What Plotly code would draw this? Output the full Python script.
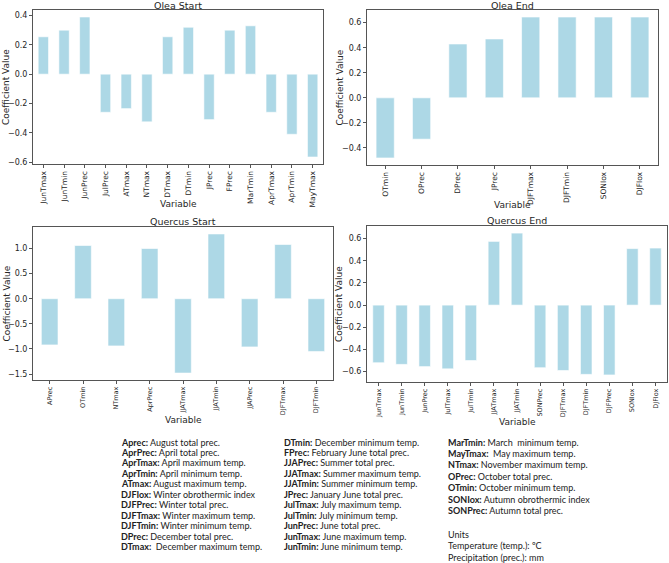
import plotly.graph_objects as go

# ---------------- data ----------------
olea_start_vars = ["JunTmax", "JunTmin", "JunPrec", "JulPrec", "ATmax", "NTmax", "DTmax",
                   "DTmin", "JPrec", "FPrec", "MarTmin", "AprTmax", "AprTmin", "MayTmax"]
olea_start_vals = [0.255, 0.30, 0.39, -0.26, -0.235, -0.325, 0.255,
                   0.32, -0.31, 0.30, 0.33, -0.26, -0.41, -0.565]

olea_end_vars = ["OTmin", "OPrec", "DPrec", "JPrec", "DJFTmax", "DJFTmin", "SONIox", "DJFIox"]
olea_end_vals = [-0.48, -0.33, 0.43, 0.47, 0.645, 0.645, 0.645, 0.645]

quercus_start_vars = ["APrec", "OTmin", "NTmax", "AprPrec", "JJATmax", "JJATmin",
                      "JJAPrec", "DJFTmax", "DJFTmin"]
quercus_start_vals = [-0.92, 1.06, -0.94, 1.0, -1.48, 1.29, -0.96, 1.08, -1.05]

quercus_end_vars = ["JunTmax", "JunTmin", "JunPrec", "JulTmax", "JulTmin", "JJATmax", "JJATmin",
                    "SONPrec", "DJFTmax", "DJFTmin", "DJFPrec", "SONIox", "DJFIox"]
quercus_end_vals = [-0.52, -0.535, -0.555, -0.575, -0.50, 0.575, 0.65,
                    -0.565, -0.59, -0.625, -0.63, 0.51, 0.515]

panel_titles = ["Olea Start", "Olea End", "Quercus Start", "Quercus End"]
panel_dticks = [0.2, 0.2, 0.5, 0.2]

legend_col1 = [("Aprec:", "August total prec."),
               ("AprPrec:", "April total prec."),
               ("AprTmax:", "April maximum temp."),
               ("AprTmin:", "April minimum temp."),
               ("ATmax:", "August maximum temp."),
               ("DJFIox:", "Winter obrothermic index"),
               ("DJFPrec:", "Winter total prec."),
               ("DJFTmax:", "Winter maximum temp."),
               ("DJFTmin:", "Winter minimum temp."),
               ("DPrec:", "December total prec."),
               ("DTmax:", " December maximum temp.")]
legend_col2 = [("DTmin:", "December minimum temp."),
               ("FPrec:", "February June total prec."),
               ("JJAPrec:", "Summer total prec."),
               ("JJATmax:", "Summer maximum temp."),
               ("JJATmin:", "Summer minimum temp."),
               ("JPrec:", "January June total prec."),
               ("JulTmax:", "July maximum temp."),
               ("JulTmin:", "July minimum temp."),
               ("JunPrec:", "June total prec."),
               ("JunTmax:", "June maximum temp."),
               ("JunTmin:", "June minimum temp.")]
legend_col3 = [("MarTmin:", "March  minimum temp."),
               ("MayTmax:", " May maximum temp."),
               ("NTmax:", "November maximum temp."),
               ("OPrec:", "October total prec."),
               ("OTmin:", "October minimum temp."),
               ("SONIox:", "Autumn obrothermic index"),
               ("SONPrec:", "Autumn total prec.")]
units_lines = ["Units", "Temperature (temp.): ºC", "Precipitation (prec.): mm"]

# ---------------- layout geometry (pixels, figure 669x563) ----------------
W, H = 669, 563
panels = [
    (olea_start_vars, olea_start_vals, (33, 323), (10, 164), 7.5, 4.5),
    (olea_end_vars, olea_end_vals, (367, 658), (10, 165), 7.5, 4.5),
    (quercus_start_vars, quercus_start_vals, (33, 333), (227, 380), 6.5, 5.5),
    (quercus_end_vars, quercus_end_vals, (367, 667), (226, 382), 6.5, 5.5),
]

TXT = "#262626"
AX = "#555555"
BAR = "#ADD8E6"

fig = go.Figure()
annotations = []
layout = dict(width=W, height=H, margin=dict(l=0, r=0, t=0, b=0, autoexpand=False),
              paper_bgcolor="white", plot_bgcolor="white", showlegend=False,
              font=dict(family="DejaVu Sans", color=TXT))

for i, (vars_, vals, (x0, x1), (y0, y1), xfs, tgap) in enumerate(panels):
    sfx = "" if i == 0 else str(i + 1)
    fig.add_trace(go.Bar(x=list(range(len(vars_))), y=vals, marker_color=BAR,
                         marker_line=dict(color="white", width=0.6), width=0.5,
                         xaxis="x" + sfx, yaxis="y" + sfx))
    lo, hi = min(min(vals), 0), max(max(vals), 0)
    pad = 0.05 * (hi - lo)
    layout["xaxis" + sfx] = dict(
        domain=[x0 / W, x1 / W], anchor="y" + sfx, range=[-0.5, len(vars_) - 0.5],
        tickmode="array", tickvals=list(range(len(vars_))), ticktext=vars_,
        tickangle=-90, ticks="outside", ticklen=3, tickcolor=AX, automargin=False,
        showline=True, linecolor=AX, linewidth=1, mirror=True, showgrid=False,
        zeroline=False, tickfont=dict(size=xfs, color=TXT))
    layout["yaxis" + sfx] = dict(
        domain=[1 - y1 / H, 1 - y0 / H], anchor="x" + sfx, range=[lo - pad, hi + pad],
        dtick=panel_dticks[i], tick0=0, tickformat=".1f", ticks="outside", ticklen=3,
        tickcolor=AX, showline=True, linecolor=AX, linewidth=1, mirror=True,
        automargin=False, showgrid=False, zeroline=False, tickfont=dict(size=8, color=TXT))
    cx = (x0 + x1) / 2 / W
    annotations.append(dict(text=panel_titles[i], x=cx, y=1 - (y0 - tgap) / H, xref="paper",
                            yref="paper", xanchor="center", yanchor="middle",
                            showarrow=False, font=dict(size=9.5, color=TXT)))
    annotations.append(dict(text="Coefficient Value", x=6 / W if x0 < 100 else (x0 - 28) / W,
                            y=1 - (y0 + y1) / 2 / H, xref="paper", yref="paper",
                            xanchor="center", yanchor="middle", textangle=-90,
                            showarrow=False, font=dict(size=9, color=TXT)))
    annotations.append(dict(text="Variable", x=cx, y=1 - (y1 + 40) / H, xref="paper",
                            yref="paper", xanchor="center", yanchor="middle",
                            showarrow=False, font=dict(size=9, color=TXT)))

LEG_FONT = dict(family="Lato", size=9, color="#222222")


def add_line(x, y, bold, rest):
    txt = (f"<b>{bold}</b> {rest}" if bold else rest)
    annotations.append(dict(text=txt, x=(x - 3) / W, y=1 - y / H, xref="paper", yref="paper",
                            xanchor="left", yanchor="middle", showarrow=False, font=LEG_FONT))


for k, (b, r) in enumerate(legend_col1):
    add_line(122, 442 + k * 10.45, b, r)
for k, (b, r) in enumerate(legend_col2):
    add_line(285, 442 + k * 10.45, b, r)
for k, (b, r) in enumerate(legend_col3):
    add_line(449, 442 + k * 11.45, b, r)
for k, t in enumerate(units_lines):
    add_line(449, 534 + k * 11.5, None, t)

layout["annotations"] = annotations
fig.update_layout(**layout)
fig.write_html("out.html", config={"displayModeBar": False},
               post_script="document.body.style.margin='0';document.body.style.overflow='hidden';")
